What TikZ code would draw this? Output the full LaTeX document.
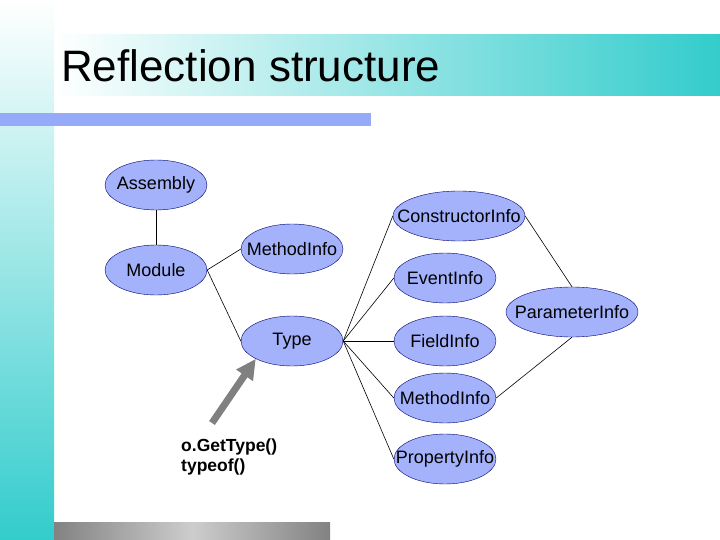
\documentclass[tikz,border=0pt]{standalone}
\usepackage{fontspec}
\setmainfont{Liberation Sans}
\usepackage{xcolor}
\usepackage{tikz}
\usetikzlibrary{arrows.meta}
\usetikzlibrary{shapes.geometric}
\definecolor{slideteal}{RGB}{51,204,204}
\definecolor{barblue}{RGB}{150,170,250}
\definecolor{ovalfill}{RGB}{163,178,250}
\definecolor{ovaldraw}{RGB}{0,0,110}
\definecolor{arrowgray}{RGB}{128,128,128}
\definecolor{bargray}{RGB}{130,130,130}
\definecolor{barlight}{RGB}{205,205,205}
\tikzstyle{oval}=[ellipse, draw=ovaldraw, fill=ovalfill, inner sep=0pt, minimum width=102pt, minimum height=50pt]
\tikzstyle{wideoval}=[oval, minimum width=132pt]
\tikzstyle{link}=[line width=0.6pt, draw=black]
\newcommand{\ovl}[1]{\makebox[0pt]{#1}}

\begin{document}
\begin{tikzpicture}[x=1pt, y=-1pt]

\tikzset{every node/.style={font=\fontsize{18}{21}\selectfont}}

\useasboundingbox (0,0) rectangle (720,540);

% Slide background
\shade[top color=white, bottom color=slideteal] (0,0) rectangle (54,540);
\shade[left color=white, right color=slideteal] (54,35) rectangle (720,96);
\fill[barblue] (0,113) rectangle (371,126);
\shade[left color=bargray, right color=bargray, middle color=barlight] (54,522) rectangle (330,540);

\node[anchor=base west, inner sep=0pt, font=\fontsize{44}{50}\selectfont] (title) at (61,82) {Reflection structure};

% Ovals
\node[oval] (assembly) at (156,185) {\ovl{Assembly}};
\node[oval] (module) at (156,270) {\ovl{Module}};
\node[oval] (methodtop) at (292,249) {\ovl{MethodInfo}};
\node[wideoval] (ctor) at (459,216) {\ovl{ConstructorInfo}};
\node[oval] (event) at (445,278) {\ovl{EventInfo}};
\node[wideoval] (param) at (572,312) {\ovl{ParameterInfo}};
\node[oval] (type) at (292,341) {\ovl{Type}};
\node[oval] (field) at (445,341) {\ovl{FieldInfo}};
\node[oval] (methodbot) at (445,398) {\ovl{MethodInfo}};
\node[oval] (prop) at (445,459) {\ovl{PropertyInfo}};

\node[anchor=north west, align=left, inner sep=0pt, font=\bfseries\fontsize{17.5}{19.5}\selectfont] (gettype) at (181,439) {o.GetType()\\typeof()};

% Links
\draw[link] (assembly.south) -- (module.north); % Assembly -> Module
\draw[link] (module.east) -- (methodtop.west); % Module -> MethodInfo
\draw[link] (module.east) -- (type.west); % Module -> Type
\draw[link] (type.east) -- (ctor.west); % Type -> ConstructorInfo
\draw[link] (type.east) -- (event.west); % Type -> EventInfo
\draw[link] (type.east) -- (field.west); % Type -> FieldInfo
\draw[link] (type.east) -- (methodbot.west); % Type -> MethodInfo
\draw[link] (type.east) -- (prop.west); % Type -> PropertyInfo
\draw[link] (ctor.east) -- (param.north); % ConstructorInfo -> ParameterInfo
\draw[link] (methodbot.east) -- (param.south); % MethodInfo -> ParameterInfo

% GetType arrow
\coordinate (gettail) at (212,423);
\draw[draw=arrowgray, fill=arrowgray, line width=7pt, -{Triangle[length=20pt, width=19pt]}] (gettail) -- (type.south west);

\end{tikzpicture}
\end{document}
